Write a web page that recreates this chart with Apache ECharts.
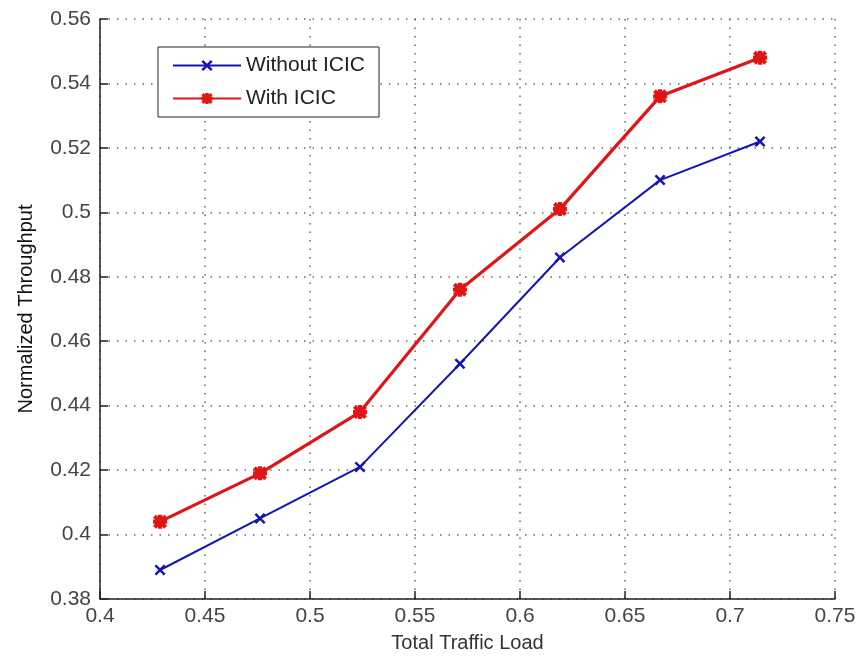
<!DOCTYPE html>
<html>
<head>
<meta charset="utf-8">
<script src="https://cdn.jsdelivr.net/npm/echarts@6/dist/echarts.min.js"></script>
<style>
  html, body { margin: 0; padding: 0; background: #fff; }
  #chart { width: 859px; height: 658px; }
</style>
</head>
<body>
<div id="chart"></div>
<script>
// traffic load on x axis
let trafficLoad = [0.4286, 0.4762, 0.5238, 0.5714, 0.6190, 0.6667, 0.7143];
// normalized throughput
let withoutIcic = [0.389, 0.405, 0.421, 0.453, 0.486, 0.510, 0.522];
let withIcic = [0.404, 0.419, 0.438, 0.476, 0.501, 0.536, 0.548];

let seriesNames = ['Without ICIC', 'With ICIC'];
let default_color = {
  tc: '#333333',
  blue: '#1515b5',
  red: '#e21515',
  grid: '#666666'
};

// marker shapes (filled polygons)
let crossMark = 'path://M0,1.6L1.6,0L5,3.4L8.4,0L10,1.6L6.6,5L10,8.4L8.4,10L5,6.6L1.6,10L0,8.4L3.4,5Z';
let starMark = 'path://M3.5,0H6.5V3.5H10V6.5H6.5V10H3.5V6.5H0V3.5H3.5Z' +
  'M0,2L2,0L5,3L8,0L10,2L7,5L10,8L8,10L5,7L2,10L0,8L3,5Z';

function pairs(xs, ys) {
  return xs.map((x, i) => [x, ys[i]]);
}

function chartLine(color, id) {
  let fontFamily = '"Liberation Sans", Arial, sans-serif';
  let option = {
    animation: false,
    backgroundColor: '#ffffff',
    grid: {
      left: 100,
      right: 24,
      top: 19,
      bottom: 59
    },
    legend: {
      orient: 'vertical',
      left: 158,
      top: 47,
      data: seriesNames,
      itemWidth: 68,
      itemHeight: 14,
      itemGap: 12,
      padding: [8, 14, 8, 14],
      borderColor: '#222',
      borderWidth: 1,
      backgroundColor: '#fff',
      textStyle: {
        fontFamily: fontFamily,
        fontSize: 21,
        color: '#222'
      }
    },
    xAxis: {
      type: 'value',
      min: 0.4,
      max: 0.75,
      interval: 0.05,
      name: 'Total Traffic Load',
      nameLocation: 'middle',
      nameGap: 34,
      nameTextStyle: {
        fontFamily: fontFamily,
        fontSize: 20,
        color: color.tc
      },
      axisLine: {
        lineStyle: { color: '#222', width: 1.5 }
      },
      axisTick: {
        inside: true,
        length: 8,
        lineStyle: { color: '#222', width: 1.5 }
      },
      axisLabel: {
        margin: 7,
        fontFamily: fontFamily,
        fontSize: 21,
        color: '#444'
      },
      splitLine: {
        show: true,
        lineStyle: {
          color: color.grid,
          width: 1.5,
          type: [1.5, 7]
        }
      }
    },
    yAxis: {
      type: 'value',
      min: 0.38,
      max: 0.56,
      interval: 0.02,
      name: 'Normalized Throughput',
      nameLocation: 'middle',
      nameGap: 64,
      nameTextStyle: {
        fontFamily: fontFamily,
        fontSize: 20,
        color: '#111'
      },
      axisLine: {
        show: true,
        lineStyle: { color: '#222', width: 1.5 }
      },
      axisTick: {
        show: true,
        inside: true,
        length: 8,
        lineStyle: { color: '#222', width: 1.5 }
      },
      axisLabel: {
        margin: 9,
        fontFamily: fontFamily,
        fontSize: 21,
        color: '#444'
      },
      splitLine: {
        show: true,
        lineStyle: {
          color: color.grid,
          width: 1.5,
          type: [1.5, 7]
        }
      }
    },
    series: [
      {
        name: seriesNames[0],
        type: 'line',
        data: pairs(trafficLoad, withoutIcic),
        symbol: crossMark,
        symbolSize: 11,
        lineStyle: { color: color.blue, width: 2 },
        itemStyle: { color: color.blue }
      },
      {
        name: seriesNames[1],
        type: 'line',
        data: pairs(trafficLoad, withIcic),
        symbol: starMark,
        symbolSize: 14,
        lineStyle: { color: color.red, width: 3.2 },
        itemStyle: { color: color.red }
      }
    ]
  };
  let chart = echarts.init(document.getElementById(id));
  chart.setOption(option);
}

chartLine(default_color, 'chart');
</script>
</body>
</html>
